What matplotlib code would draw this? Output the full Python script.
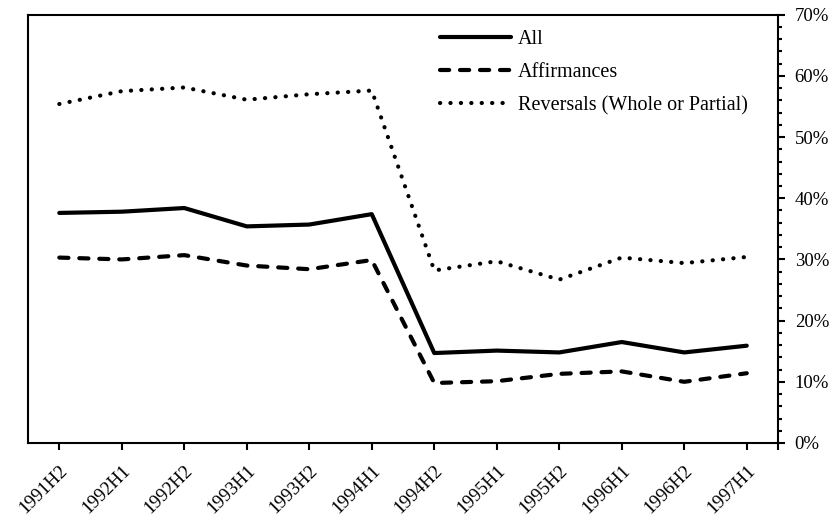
import matplotlib
matplotlib.use('Agg')
import matplotlib.pyplot as plt
from matplotlib.ticker import PercentFormatter, MultipleLocator, FixedLocator

plt.rcParams['font.family'] = ['Liberation Serif', 'DejaVu Serif']

# Halbjahre
perioden = ['1991H2', '1992H1', '1992H2', '1993H1', '1993H2', '1994H1',
            '1994H2', '1995H1', '1995H2', '1996H1', '1996H2', '1997H1']

# Anteile in Prozent
alle = [37.6, 37.8, 38.4, 35.4, 35.7, 37.4, 14.7, 15.1, 14.8, 16.5, 14.8, 15.9]
affirm = [30.3, 30.0, 30.7, 29.0, 28.4, 29.9, 9.8, 10.1, 11.3, 11.7, 10.0, 11.4]
reversal = [55.4, 57.5, 58.1, 56.1, 57.0, 57.6, 28.2, 29.7, 26.7, 30.3, 29.4, 30.4]

fig = plt.figure(figsize=(8.37, 5.24), dpi=100)
ax = fig.add_axes([0.0335, 0.1546, 0.896, 0.8174])

x = list(range(len(perioden)))
ax.plot(x, alle, '-', color='black', lw=3, solid_capstyle='round', label='All')
ax.plot(x, affirm, '--', color='black', lw=3, dashes=(2.2, 2.6),
        dash_capstyle='round', label='Affirmances')
ax.plot(x, reversal, ':', color='black', lw=3, dashes=(0.05, 2.45),
        dash_capstyle='round', label='Reversals (Whole or Partial)')

ax.set_xlim(-0.5, len(perioden) - 0.5)
ax.set_ylim(0, 70)

ax.yaxis.tick_right()
ax.yaxis.set_major_locator(MultipleLocator(10))
ax.yaxis.set_minor_locator(MultipleLocator(2))
ax.yaxis.set_major_formatter(PercentFormatter(decimals=0))
ax.tick_params(axis='y', which='major', length=5, width=1.5, labelsize=13.5, pad=7)
ax.tick_params(axis='y', which='minor', length=3, width=1.5)

ax.set_xticks(x)
ax.set_xticklabels(perioden, rotation=45, ha='right', rotation_mode='anchor')
ax.xaxis.set_minor_locator(FixedLocator([len(perioden) - 0.5]))
ax.tick_params(axis='x', which='major', length=5, width=1.5, labelsize=13.5, pad=9)
ax.tick_params(axis='x', which='minor', length=5, width=1.5)

for s in ax.spines.values():
    s.set_linewidth(1.5)

ax.legend(loc='upper left', bbox_to_anchor=(0.531, 0.998), frameon=False,
          borderaxespad=0.3, fontsize=14.5, handlelength=3.5,
          handletextpad=0.35, labelspacing=0.70)

fig.savefig('out.png', dpi=100)
